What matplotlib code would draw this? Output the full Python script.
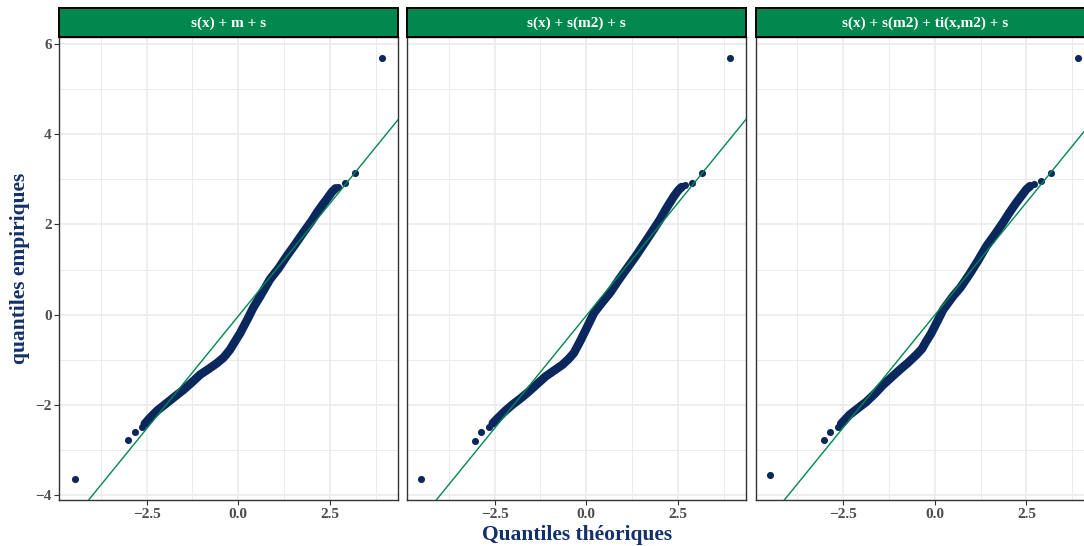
import matplotlib
matplotlib.use("Agg")
import matplotlib.pyplot as plt

plt.rcParams['font.family'] = ['Liberation Serif', 'DejaVu Serif']
plt.rcParams['font.weight'] = 'bold'

panel_titles = ["s(x) + m + s", "s(x) + s(m2) + s", "s(x) + s(m2) + ti(x,m2) + s"]

# Dense central run of each Q-Q plot (theoretical, empirical)
body1_theo = [-2.55, -2.41, -2.20, -1.95, -1.72, -1.50, -1.25, -1.04, -0.80, -0.59,
              -0.40, -0.23, -0.08, 0.05, 0.14, 0.27, 0.41, 0.59, 0.86, 1.10,
              1.32, 1.55, 1.77, 2.00, 2.14, 2.28, 2.41, 2.55, 2.65]
body1_emp = [-2.42, -2.29, -2.12, -1.96, -1.81, -1.67, -1.49, -1.33, -1.20, -1.08,
             -0.95, -0.78, -0.58, -0.41, -0.27, -0.07, 0.16, 0.40, 0.78, 1.03,
             1.30, 1.56, 1.82, 2.08, 2.26, 2.42, 2.56, 2.72, 2.80]

body2_theo = [-2.55, -2.42, -2.22, -2.02, -1.78, -1.56, -1.33, -1.11, -0.88, -0.65,
              -0.48, -0.34, -0.15, 0.03, 0.21, 0.44, 0.66, 0.89, 1.12, 1.35,
              1.58, 1.80, 2.00, 2.16, 2.29, 2.39, 2.52, 2.60]
body2_emp = [-2.41, -2.30, -2.14, -2.00, -1.85, -1.70, -1.53, -1.37, -1.24, -1.11,
             -0.98, -0.85, -0.56, -0.26, 0.04, 0.28, 0.50, 0.78, 1.04, 1.30,
             1.58, 1.85, 2.10, 2.33, 2.50, 2.63, 2.77, 2.83]

body3_theo = [-2.55, -2.32, -2.10, -1.86, -1.63, -1.41, -1.18, -0.95, -0.72, -0.50,
              -0.35, -0.23, -0.10, 0.00, 0.12, 0.23, 0.50, 0.70, 0.95, 1.18,
              1.41, 1.64, 1.86, 2.05, 2.22, 2.36, 2.50, 2.60]
body3_emp = [-2.42, -2.22, -2.08, -1.93, -1.75, -1.56, -1.39, -1.22, -1.06, -0.89,
             -0.76, -0.59, -0.42, -0.26, -0.07, 0.11, 0.41, 0.60, 0.90, 1.20,
             1.52, 1.78, 2.04, 2.28, 2.48, 2.63, 2.78, 2.85]

# Isolated points in the tails
tail1_theo = [-4.46, -3.00, -2.83, -2.63, 2.71, 2.91, 3.18, 3.92]
tail1_emp = [-3.64, -2.79, -2.61, -2.50, 2.84, 2.93, 3.13, 5.68]
tail2_theo = [-4.50, -3.03, -2.86, -2.65, 2.69, 2.89, 3.14, 3.91]
tail2_emp = [-3.64, -2.80, -2.61, -2.50, 2.87, 2.93, 3.15, 5.68]
tail3_theo = [-4.48, -3.01, -2.85, -2.63, 2.71, 2.89, 3.16, 3.90]
tail3_emp = [-3.56, -2.78, -2.61, -2.50, 2.89, 2.96, 3.15, 5.70]

# Reference lines (slope, intercept)
line_slope = [1.0, 1.0, 1.0]
line_intercept = [-0.03, -0.02, -0.01]

x_major = [-2.5, 0.0, 2.5]
x_minor = [-3.75, -1.25, 1.25, 3.75]
y_major = [-4, -2, 0, 2, 4, 6]
y_minor = [-3, -1, 1, 3, 5]

bodies = [(body1_theo, body1_emp), (body2_theo, body2_emp), (body3_theo, body3_emp)]
tails = [(tail1_theo, tail1_emp), (tail2_theo, tail2_emp), (tail3_theo, tail3_emp)]

NAVY = '#0A275E'
GREEN = '#00884F'
W, H = 1084, 546

fig = plt.figure(figsize=(W / 100, H / 100), dpi=100)

panel_left = [59.3, 407.3, 755.7]
panel_w = 339.0
panel_top, panel_bot = 37.3, 500.0
strip_top = 8.3

for i in range(3):
    l = panel_left[i] / W
    ax = fig.add_axes([l, (H - panel_bot) / H, panel_w / W, (panel_bot - panel_top) / H])
    ax.set_xlim(-4.88, 4.36)
    ax.set_ylim(-4.11, 6.15)
    ax.set_xticks(x_major)
    ax.set_xticks(x_minor, minor=True)
    ax.set_yticks(y_major)
    ax.set_yticks(y_minor, minor=True)
    ax.set_xticklabels(['\u22122.5', '0.0', '2.5'])
    ax.set_yticklabels(['\u22124', '\u22122', '0', '2', '4', '6'] if i == 0 else [])
    ax.grid(which='major', color='#EBEBEB', lw=1.2, zorder=0)
    ax.grid(which='minor', color='#EBEBEB', lw=0.7, zorder=0)
    ax.set_axisbelow(True)
    ax.tick_params(which='major', length=3.5, width=0.8, color='#333333',
                   labelsize=11, labelcolor='#4D4D4D', pad=2.0)
    ax.tick_params(which='minor', length=0)
    if i > 0:
        ax.tick_params(axis='y', which='major', length=0)
    for sp in ax.spines.values():
        sp.set_color('#333333')
        sp.set_linewidth(1.0)

    bx, by = bodies[i]
    ax.plot(bx, by, color=NAVY, lw=6.2, solid_capstyle='round',
            solid_joinstyle='round', zorder=2)
    tx, ty = tails[i]
    ax.scatter(tx, ty, s=26, color=NAVY, linewidths=0, zorder=2)
    ax.axline((0, line_intercept[i]), slope=line_slope[i], color=GREEN, lw=1.0, zorder=3)

    sax = fig.add_axes([l, (H - panel_top) / H, panel_w / W, (panel_top - strip_top) / H])
    sax.set_facecolor(GREEN)
    sax.set_xticks([])
    sax.set_yticks([])
    for sp in sax.spines.values():
        sp.set_color('black')
        sp.set_linewidth(1.4)
    sax.text(0.5, 0.5, panel_titles[i], transform=sax.transAxes, ha='center',
             va='center', color='white', fontsize=11, fontweight='bold')

fig.text(20 / W, (H - 268.7) / H, 'quantiles empiriques', rotation=90,
         ha='center', va='center', color='#13306A', fontsize=15.5, fontweight='bold')
fig.text(577 / W, (H - 535) / H, 'Quantiles théoriques', ha='center', va='center',
         color='#13306A', fontsize=15.5, fontweight='bold')

fig.savefig('out.png', dpi=100)
